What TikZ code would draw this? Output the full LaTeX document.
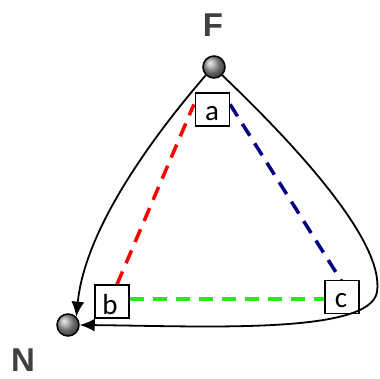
\documentclass[tikz,border=0pt]{standalone}
\usepackage{fontspec}
\setmainfont{Carlito}
\newfontfamily\lblfont{Liberation Sans}
\usetikzlibrary{arrows.meta}
\definecolor{navyd}{HTML}{000080}
\definecolor{greend}{HTML}{22EE11}
\begin{document}
\begin{tikzpicture}[x=1pt,y=-1pt,
  ball/.style={circle,draw=black,line width=1.5pt,shading=ball,ball color=gray!80,minimum size=22pt,inner sep=0pt},
  boxn/.style={draw=black,line width=1.2pt,fill=white,minimum width=34pt,minimum height=33pt,inner sep=0pt},
  lbl/.style={font=\fontsize{29}{29}\selectfont,inner sep=0pt},
  dsh/.style={line width=3.5pt,dash pattern=on 14pt off 9pt},
  conn/.style={line width=1.8pt,-{Latex[length=15pt,width=13pt]}},
  big/.style={font=\lblfont\bfseries\fontsize{33}{33}\selectfont,text=black!75}]
\useasboundingbox (0,0) rectangle (380,378);
\node[big] (Fl) at (213,25) {F};
\node[big] (Nl) at (23,360) {N};
\node[boxn] (a) at (212.5,109.5) {};
\node[boxn] (b) at (112,301.5) {};
\node[boxn] (c) at (342,297) {};
\coordinate (b1) at ([xshift=5pt]b.north);
\coordinate (b2) at (b.east |- 0,299);
\coordinate (c2) at (c.west |- 0,299);
\draw[dsh,red] (b1) -- ([xshift=-1pt,yshift=-12pt]a.north west);
\draw[dsh,navyd] ([yshift=-12pt]a.north east) -- ([yshift=-2pt]c.north);
\draw[dsh,greend] (b2) -- (c2);
\node[boxn] at (a) {};
\node[boxn] at (b) {};
\node[boxn] at (c) {};
\node[lbl] (at) at (212,114) {a};
\node[lbl] (bt) at (110,305) {b};
\node[lbl] (ct) at (341,301) {c};
\node[ball] (F) at (214,67) {};
\node[ball] (N) at (68,325) {};
\draw[conn] (F.south west) .. controls (150,140) and (85,230) .. (N.north east);
\draw[conn] (F.south east) .. controls (290,140) and (385,240) .. (377,292) .. controls (370,335) and (200,326) .. (N.east);
\end{tikzpicture}
\end{document}
